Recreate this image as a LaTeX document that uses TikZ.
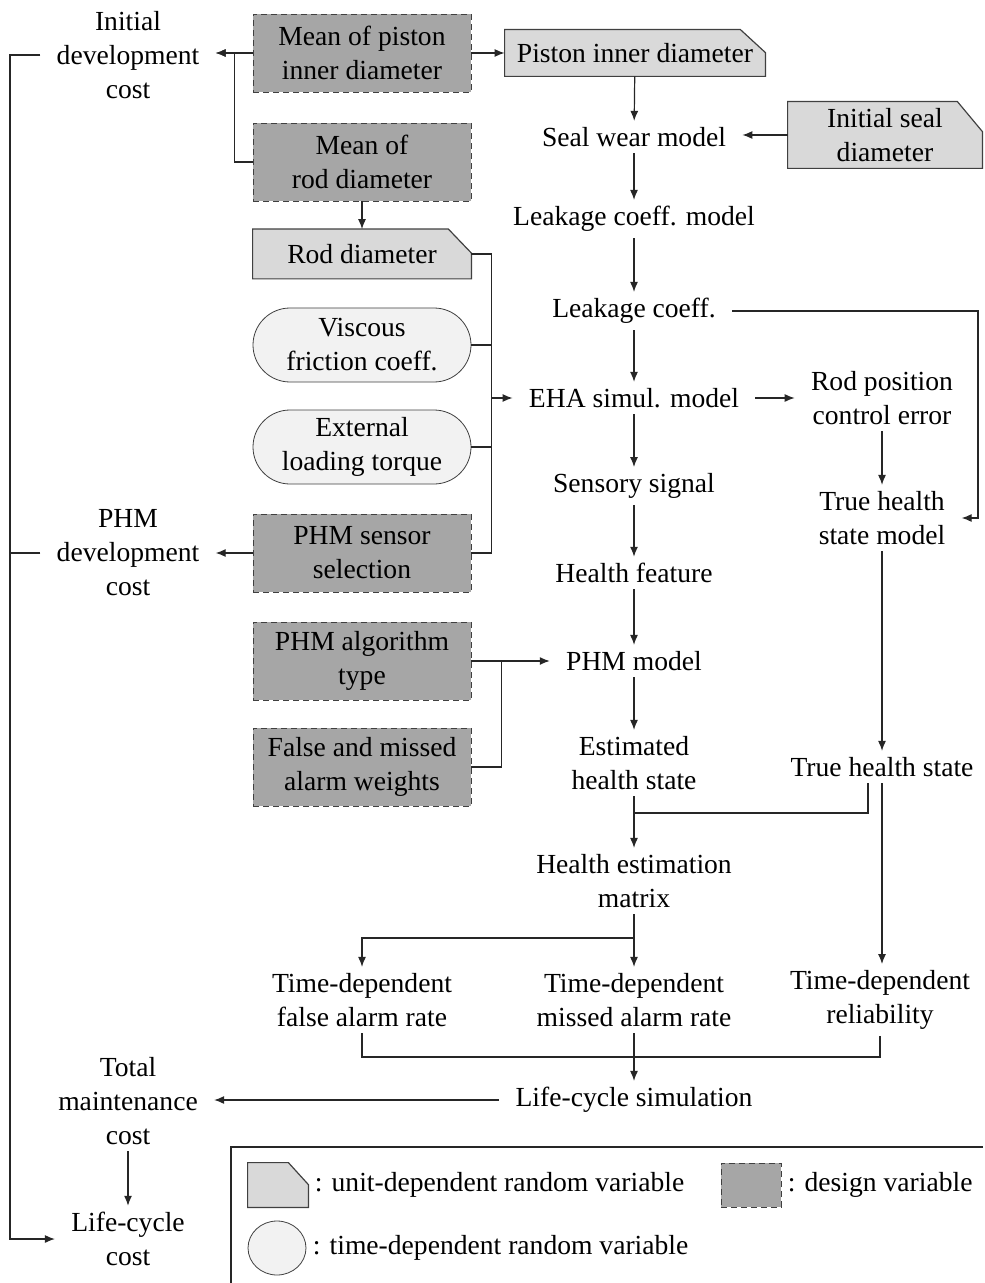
\documentclass[tikz,border=0pt]{standalone}
\usepackage{fontspec}
\setmainfont{Liberation Serif}
\usetikzlibrary{arrows.meta, positioning, backgrounds, shapes.geometric}

\begin{document}
\begin{tikzpicture}[x=0.5pt, y=-0.5pt,
        font=\fontsize{13.8}{17}\selectfont,
        txt/.style={align=center, inner xsep=8pt, inner ysep=3pt},
        designvar/.style={draw=black!75, dash pattern=on 3pt off 2pt, fill=black!35, align=center, minimum width=109pt, minimum height=39pt, inner sep=0pt},
        unitvar/.style={align=center, inner sep=0pt},
        timevar/.style={draw=black!75, fill=black!5, rounded corners=18.5pt, align=center, minimum width=109pt, minimum height=37pt, inner sep=0pt},
        unitfill/.style={draw=black!75, fill=black!15, line width=0.6pt},
        link/.style={draw=black!85, line width=0.6pt},
        arr/.style={link, -{Latex[length=5pt, width=4pt]}}]
        \useasboundingbox (0,0) rectangle (984,1283);

        % cost outputs
        \node[txt] (initdev) at (128,55) {Initial\\development\\cost};
        \node[txt] (phmdev) at (128,553) {PHM\\development\\cost};
        \node[txt] (maintcost) at (128,1101) {Total\\maintenance\\cost};
        \node[txt] (lccost) at (128,1239) {Life-cycle\\cost};

        % inputs
        \node[designvar] (meanpiston) at (362,53) {Mean of piston\\inner diameter};
        \node[designvar] (meanrod) at (362,162) {Mean of\\rod diameter};
        \node[unitvar, minimum width=109pt, minimum height=24.5pt] (roddiam) at (362,254) {Rod diameter};
        \node[timevar] (viscous) at (362,345) {Viscous\\friction coeff.};
        \node[timevar] (extload) at (362,447) {External\\loading torque};
        \node[designvar] (sensorsel) at (362,553) {PHM sensor\\selection};
        \node[designvar] (phmalgo) at (362,661) {PHM algorithm\\type};
        \node[designvar] (alarmwt) at (362,767) {False and missed\\alarm weights};

        % simulation chain
        \node[unitvar, minimum width=130pt, minimum height=23pt] (pistonid) at (635,53) {Piston inner diameter};
        \node[txt] (sealwear) at (634,137) {Seal wear model};
        \node[txt] (leakmodel) at (634,219) {Leakage coeff. model};
        \node[txt] (leakcoef) at (634,311) {Leakage coeff.};
        \node[txt] (eha) at (634,398) {EHA simul. model};
        \node[txt] (sensory) at (634,486) {Sensory signal};
        \node[txt] (feature) at (634,573) {Health feature};
        \node[txt] (phmmodel) at (634,661) {PHM model};
        \node[txt] (esths) at (634,763) {Estimated\\health state};
        \node[txt] (hematrix) at (634,881) {Health estimation\\matrix};
        \node[txt] (missed) at (634,1000) {Time-dependent\\missed alarm rate};
        \node[txt] (falsealarm) at (362,1000) {Time-dependent\\false alarm rate};
        \node[txt] (lcsim) at (634,1100) {Life-cycle simulation};

        % true health branch
        \node[unitvar, minimum width=97pt, minimum height=33pt] (sealdiam) at (885,135) {Initial seal\\diameter};
        \node[txt] (rodpos) at (882,398) {Rod position\\control error};
        \node[txt] (thsmodel) at (882,518) {True health\\state model};
        \node[txt] (truehs) at (882,767) {True health state};
        \node[txt] (reliab) at (880,1000) {Time-dependent\\reliability};

        % legend
        \draw[link] (983,1147) -- (231,1147) -- (231,1283);
        \node[unitvar, minimum width=30pt, minimum height=22pt] (keyunit) at (278,1185) {};
        \node[right=3pt of keyunit, inner sep=0pt] (keyunittxt) {: unit-dependent random variable};
        \node[designvar, minimum width=30pt, minimum height=22pt] (keydesign) at (751,1185) {};
        \node[right=3pt of keydesign, inner sep=0pt] (keydesigntxt) {: design variable};
        \node[ellipse, draw=black!75, fill=black!5, minimum width=29pt, minimum height=27pt, inner sep=0pt] (keytime) at (277,1248) {};
        \node[right=3pt of keytime, inner sep=0pt] (keytimetxt) {: time-dependent random variable};

        % cut-corner boxes behind the unit-dependent variables
        \begin{scope}[on background layer]
            \foreach \n/\cx/\cy in {pistonid/12.5pt/11.5pt, roddiam/11.5pt/12pt, sealdiam/12.5pt/15pt, keyunit/10pt/11pt}
                \filldraw[unitfill] (\n.south west) |- ([xshift=-\cx]\n.north east) -- ([yshift=-\cy]\n.north east) |- (\n.south west) -- cycle;
        \end{scope}

        % design variables to costs
        \draw[arr] (meanpiston.west) -- (meanpiston.west -| initdev.east);
        \draw[arr] (meanrod.west) -- ++(-18,0) |- (meanpiston.west -| initdev.east);
        \draw[arr] (meanpiston) -- (pistonid);
        \draw[arr] (meanrod) -- (roddiam);
        \draw[arr] (sensorsel.west) -- (sensorsel.west -| phmdev.east);

        % main chain
        \draw[arr] (pistonid) -- (sealwear);
        \draw[arr] (sealdiam.west) -- (sealdiam.west -| sealwear.east);
        \draw[arr] (sealwear) -- (leakmodel);
        \draw[arr] (leakmodel) -- (leakcoef);
        \draw[arr] (leakcoef) -- (eha);
        \draw[arr] (eha) -- (rodpos);
        \draw[arr] (eha) -- (sensory);
        \draw[arr] (sensory) -- (feature);
        \draw[arr] (feature) -- (phmmodel);
        \draw[arr] (phmmodel) -- (esths);
        \draw[arr] (rodpos) -- (thsmodel);
        \draw[arr] (thsmodel) -- (truehs);
        \coordinate (leakturn) at (978,311);
        \draw[arr] (leakcoef) -- (leakturn) |- (thsmodel);

        % inputs of the EHA model
        \draw[link] (roddiam.east) -- ++(20,0) |- (sensorsel.east);
        \draw[link] (viscous.east) -- ++(20,0);
        \draw[link] (extload.east) -- ++(20,0);
        \draw[arr] (eha.west -| roddiam.east) ++(20,0) -- (eha.west);

        % inputs of the PHM model
        \draw[arr] (phmalgo) -- (phmmodel);
        \draw[link] (alarmwt.east) -| ([xshift=15pt]phmalgo.east);

        % health states to rates
        \coordinate (hsjoin) at (634,813);
        \draw[arr] (esths) -- (hematrix);
        \draw[link] ([xshift=-7pt]truehs.south) |- (hsjoin);
        \draw[arr] (truehs.south) -- (truehs.south |- reliab.north);
        \coordinate (hmsplit) at (634,938);
        \draw[arr] (hematrix) -- (missed);
        \draw[arr] (hmsplit) -| (falsealarm);

        % rates to costs
        \coordinate (lcjoin) at (634,1057);
        \draw[link] (falsealarm.south) |- (lcjoin);
        \draw[link] (reliab.south) |- (lcjoin);
        \draw[arr] (missed) -- (lcsim);
        \draw[arr] (lcsim.west) -- (lcsim.west -| maintcost.east);
        \draw[arr] (maintcost) -- (lccost);
        \coordinate (costbus) at (10,1239);
        \draw[arr] (initdev.west) -| (costbus) -- (lccost.west);
        \draw[link] (phmdev.west) -- (phmdev.west -| costbus);
    \end{tikzpicture}
\end{document}
